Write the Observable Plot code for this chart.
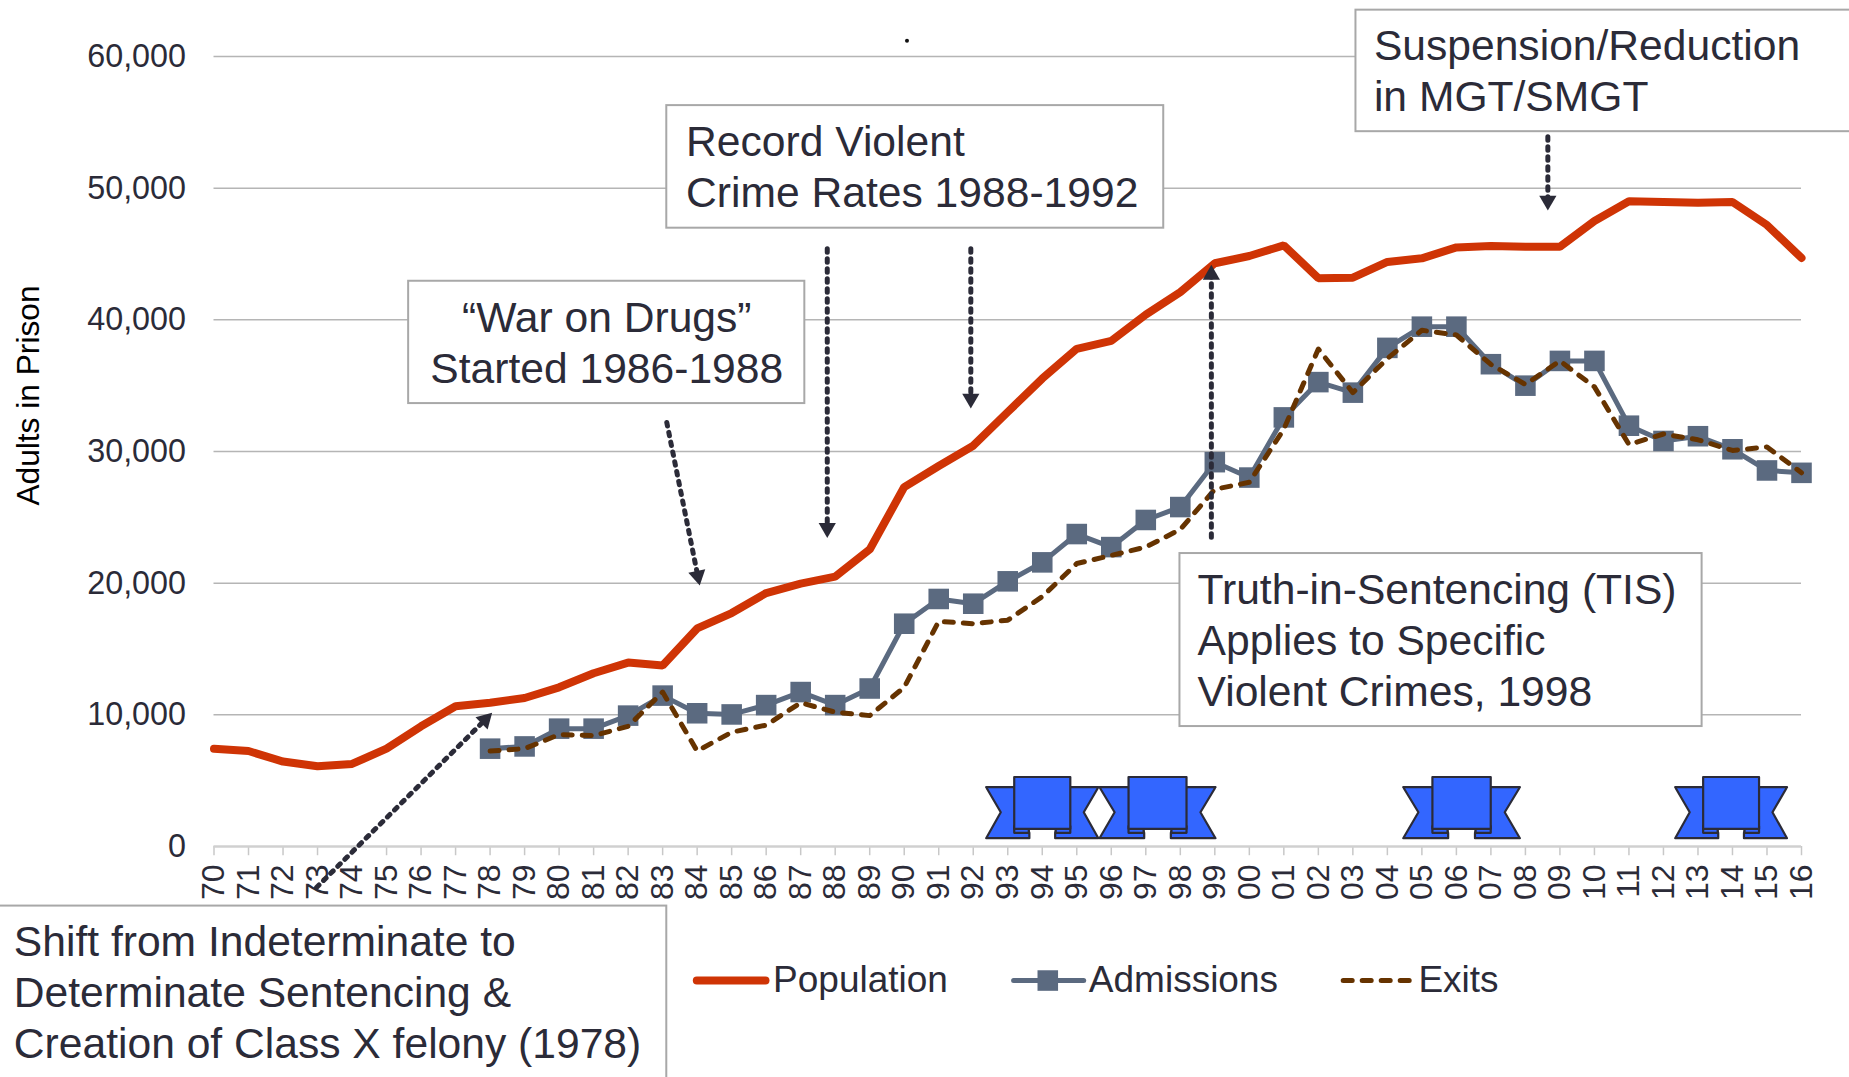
<!DOCTYPE html>
<html>
<head>
<meta charset="utf-8">
<style>html,body{margin:0;padding:0;background:#fff;overflow:hidden}svg{display:block}</style>
<script src="https://cdn.jsdelivr.net/npm/d3@7"></script>
<script src="https://cdn.jsdelivr.net/npm/@observablehq/plot@0.6"></script>
</head>
<body>
<script>
const years = d3.range(1970, 2017);
const population = [7430,7250,6450,6090,6270,7430,9130,10650,10920,11280,12090,13160,13970,13740,16560,17730,19250,19960,20500,22560,27300,28900,30440,33000,35540,37800,38400,40400,42100,44300,44850,45660,43160,43200,44400,44670,45500,45600,45550,45550,47500,49000,48950,48900,48950,47200,44700];
const flowYears = d3.range(1978, 2017);
const admissions = [7430,7600,8950,8950,9940,11460,10120,10030,10740,11730,10740,12000,16920,18800,18440,20140,21580,23730,22740,24800,25780,29190,28020,32590,35270,34470,37870,39480,39480,36630,35000,36880,36880,31960,30800,31160,30170,28560,28380];
const exits = [7250,7430,8500,8420,9130,11730,7250,8680,9220,10920,10200,9940,12090,17100,16920,17190,18980,21490,22110,22740,24080,27130,27660,31700,37780,34470,37060,39210,38850,36610,35090,36880,34910,30530,31330,30890,30080,30350,28380];
const yTicks = [0,10000,20000,30000,40000,50000,60000];

const boxes = [
  {x1:1975.64,x2:1987.12,y1:33640,y2:42930},
  {x1:1983.12,x2:1997.52,y1:46960,y2:56270},
  {x1:2003.09,x2:2017.6,y1:54290,y2:63520},
  {x1:1997.99,x2:2013.12,y1:9110,y2:22250},
  {x1:1963.75,x2:1983.12,y1:-18000,y2:-4525}
];
const labels = [
  {x:1981.38,y:38370,a:"middle",t:"\u201CWar on Drugs\u201D\nStarted 1986-1988"},
  {x:1983.68,y:51730,a:"start",t:"Record Violent\nCrime Rates 1988-1992"},
  {x:2003.61,y:59060,a:"start",t:"Suspension/Reduction\nin MGT/SMGT"},
  {x:1998.5,y:15770,a:"start",t:"Truth-in-Sentencing (TIS)\nApplies to Specific\nViolent Crimes, 1998"},
  {x:1964.2,y:-10960,a:"start",t:"Shift from Indeterminate to\nDeterminate Sentencing &\nCreation of Class X felony (1978)"}
];
const arrows = [
  {x1:1972.97,y1:-3110,x2:1978.04,y2:10100},
  {x1:1983.12,y1:32200,x2:1984.07,y2:19890},
  {x1:1987.77,y1:45400,x2:1987.77,y2:23500},
  {x1:1991.93,y1:45400,x2:1991.93,y2:33330},
  {x1:1998.9,y1:23480,x2:1998.9,y2:44110},
  {x1:2008.65,y1:53900,x2:2008.65,y2:48370}
];
const ribbons = [
  {c:1994,h:1.625},{c:1997.34,h:1.68},{c:2006.15,h:1.69},{c:2013.96,h:1.62}
];

const xRange = [213.5,1801], yRange = [846,56];
const sx = d3.scaleLinear([1970,2016], xRange), sy = d3.scaleLinear([0,60000], yRange);
const HEAD = 9;
const arrowParts = arrows.map(a => {
  const dx = sx(a.x2)-sx(a.x1), dy = sy(a.y2)-sy(a.y1), len = Math.hypot(dx,dy);
  const hx = sx.invert(sx(a.x2)-dx/len*HEAD), hy = sy.invert(sy(a.y2)-dy/len*HEAD);
  return {...a, hx, hy, rot: Math.atan2(dx,-dy)*180/Math.PI};
});

// ribbon outline, as fractions of half width and adult counts
const wt=4503, mid=2604, wb=630, pt=5277, pb=1344, lb=1040;
const polys = [
  {k:"w1",p:[[-1,wt],[-.5,wt],[-.23,lb],[-.23,wb],[-1,wb],[-.74,mid],[-1,wt]]},
  {k:"w2",p:[[1,wt],[.5,wt],[.23,lb],[.23,wb],[1,wb],[.74,mid],[1,wt]]},
  {k:"l1",p:[[-.5,pb+200],[-.24,pb+200],[-.24,lb],[-.5,lb],[-.5,pb+200]]},
  {k:"l2",p:[[.5,pb+200],[.24,pb+200],[.24,lb],[.5,lb],[.5,pb+200]]},
  {k:"p",p:[[-.5,pt],[.5,pt],[.5,pb],[-.5,pb],[-.5,pt]]}
];
const ribbonPts = ribbons.flatMap((r,i)=>polys.flatMap(s=>s.p.map(([f,y])=>({x:r.c+f*r.h,y,z:i+s.k}))));

const pop = years.map((x,i)=>({x,y:population[i]}));
const adm = flowYears.map((x,i)=>({x,y:admissions[i]}));
const ext = flowYears.map((x,i)=>({x,y:exits[i]}));

const TXT = "#2b2b38", POP = "#cf3405", ADM = "#5b6a80", EXT = "#663300", LEGY = -10180;
const dash = {stroke:EXT,strokeWidth:5,strokeDasharray:"9 10",strokeLinecap:"round"};

const chart = Plot.plot({
  width:1849, height:1077,
  marginTop:56, marginBottom:231, marginLeft:213.5, marginRight:48,
  style:{fontFamily:"'Liberation Sans',Arial,sans-serif",background:"#fff",color:TXT,overflow:"visible"},
  x:{domain:[1970,2016],range:xRange},
  y:{domain:[0,60000],range:yRange},
  marks:[
    Plot.ruleY(yTicks.slice(1),{x1:1970,x2:2016,stroke:"#b5b5b5",strokeWidth:1.5}),
    Plot.ruleX(years,{y1:0,y2:-700,stroke:"#c8c8c8",strokeWidth:1.5}),
    Plot.ruleY([0],{x1:1970,x2:2016,stroke:"#d0d0d0",strokeWidth:2.5}),
    Plot.axisX(years,{tickRotate:-90,tickSize:0,tickPadding:18,fontSize:32,fill:TXT,
      tickFormat:d=>String(d%100).padStart(2,"0"),label:null}),
    Plot.axisY(yTicks,{tickSize:0,tickPadding:28,fontSize:32.3,fill:TXT,
      tickFormat:d3.format(","),label:null}),
    Plot.text(["Adults in Prison"],{x:1964.63,y:34250,rotate:-90,fontSize:31.7,fill:"#000"}),
    Plot.dot([0],{x:()=>1990.08,y:()=>61200,r:2,fill:"#111"}),
    Plot.line(ribbonPts,{x:"x",y:"y",z:"z",fill:"#3366ff",stroke:"#2b2b38",strokeWidth:2.2,strokeLinejoin:"round"}),
    Plot.line(pop,{x:"x",y:"y",stroke:POP,strokeWidth:8,strokeLinejoin:"miter"}),
    Plot.line(adm,{x:"x",y:"y",stroke:ADM,strokeWidth:5}),
    Plot.dot(adm,{x:"x",y:"y",symbol:"square",r:11.6,fill:ADM}),
    Plot.line(ext,{x:"x",y:"y",...dash}),
    ...arrowParts.flatMap(a=>[
      Plot.line([{x:a.x1,y:a.y1},{x:a.hx,y:a.hy}],{x:"x",y:"y",stroke:TXT,strokeWidth:5,strokeDasharray:"3.5 6.5"}),
      Plot.dot([a],{x:"hx",y:"hy",rotate:"rot",symbol:"triangle",r:6.4,fill:TXT})
    ]),
    Plot.rect(boxes,{x1:"x1",x2:"x2",y1:"y1",y2:"y2",fill:"#fff",stroke:"#a8a8a8",strokeWidth:2}),
    Plot.text(labels,{x:"x",y:"y",text:"t",textAnchor:"start",filter:d=>d.a==="start",fontSize:42.6,lineHeight:1.2,fill:TXT}),
    Plot.text(labels,{x:"x",y:"y",text:"t",textAnchor:"middle",filter:d=>d.a==="middle",fontSize:42.6,lineHeight:1.2,fill:TXT}),
    // legend
    Plot.line([{x:1983.99,y:LEGY},{x:1985.98,y:LEGY}],{x:"x",y:"y",stroke:POP,strokeWidth:8}),
    Plot.text(["Population"],{x:1986.2,y:LEGY,textAnchor:"start",fontSize:37,fill:TXT}),
    Plot.line([{x:1993.17,y:LEGY},{x:1995.2,y:LEGY}],{x:"x",y:"y",stroke:ADM,strokeWidth:5}),
    Plot.dot([0],{x:()=>1994.16,y:()=>LEGY,symbol:"square",r:11.6,fill:ADM}),
    Plot.text(["Admissions"],{x:1995.35,y:LEGY,textAnchor:"start",fontSize:37,fill:TXT}),
    Plot.line([{x:2002.72,y:LEGY},{x:2004.8,y:LEGY}],{x:"x",y:"y",...dash}),
    Plot.text(["Exits"],{x:2004.9,y:LEGY,textAnchor:"start",fontSize:37,fill:TXT})
  ]
});
document.body.appendChild(chart);
</script>
</body>
</html>
